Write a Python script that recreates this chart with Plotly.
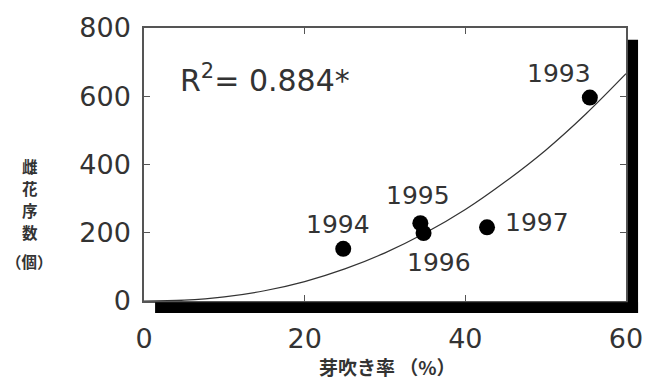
import plotly.graph_objects as go

# observed points
years = ["1993", "1994", "1995", "1996", "1997"]
bud_rate = [55.5, 24.8, 34.4, 34.8, 42.7]          # 芽吹き率 (%)
inflorescences = [596, 153, 228, 199, 216]         # 雌花序数 (個)

# fitted curve
curve_x = [0, 5, 10, 15, 20, 25, 30, 35, 40, 45, 50, 55, 60]
curve_y = [0, 2.5, 12, 30, 57, 94, 141, 199, 268, 350, 442, 548, 666]

x_ticks = [0, 20, 40, 60]
y_ticks = [0, 200, 400, 600, 800]

# vertical y-axis title, one line per glyph group
y_title_parts = ["雌", "花", "序", "数", "（個）"]
y_title_pos = [0.494, 0.414, 0.334, 0.254, 0.145]   # paper y of each line

# label offsets (pixels) per year
label_dx = [-31, -5, -2, 15, 50]
label_dy = [24, 24, 28, -29, 5]

TXT = "#333333"
FRAME = "#555555"

fig = go.Figure()
fig.add_trace(go.Scatter(x=curve_x, y=curve_y, mode="lines",
                         line=dict(color="#333333", width=1.2, shape="spline"),
                         hoverinfo="skip", showlegend=False))
fig.add_trace(go.Scatter(x=bud_rate, y=inflorescences, mode="markers",
                         marker=dict(color="black", size=16),
                         showlegend=False))

for yr, xv, yv, dx, dy in zip(years, bud_rate, inflorescences, label_dx, label_dy):
    fig.add_annotation(x=xv, y=yv, text=yr, showarrow=False, xshift=dx, yshift=dy,
                       font=dict(family="DejaVu Sans", size=25, color=TXT))

fig.add_annotation(xref="paper", yref="paper", x=0.07, y=0.815, xanchor="left",
                   yanchor="middle", text="R<sup>2</sup>= 0.884*", showarrow=False,
                   font=dict(family="DejaVu Sans", size=30, color=TXT))

for part, py in zip(y_title_parts, y_title_pos):
    fig.add_annotation(xref="paper", yref="paper", x=-0.237, y=py, xanchor="center",
                       yanchor="middle", text=part, showarrow=False,
                       font=dict(family="Noto Sans CJK JP", size=15.5, color=TXT, weight="bold"))

fig.add_annotation(xref="paper", yref="paper", x=0.506, y=-0.24, xanchor="center",
                   yanchor="middle", text="芽吹き率 （%）", showarrow=False,
                   font=dict(family="Noto Sans CJK JP", size=19, color=TXT, weight="bold"))

# thick shadow frame (bottom and right)
fig.add_shape(type="rect", xref="paper", yref="paper", x0=0.023, x1=1.025, y0=-0.044, y1=-0.005,
              fillcolor="black", line=dict(width=0), layer="above")
fig.add_shape(type="rect", xref="paper", yref="paper", x0=1.004, x1=1.025, y0=-0.044, y1=0.957,
              fillcolor="black", line=dict(width=0), layer="above")

axis_common = dict(showline=True, linecolor=FRAME, linewidth=1.5, mirror="allticks",
                   ticks="inside", ticklen=6, tickwidth=1.2, tickcolor=FRAME,
                   showgrid=False, zeroline=False,
                   tickfont=dict(family="DejaVu Sans", size=27, color=TXT))

fig.update_xaxes(range=[0, 60], tickvals=x_ticks, ticklabelstandoff=13, **axis_common)
fig.update_yaxes(range=[0, 800], tickvals=y_ticks, ticklabelstandoff=6, **axis_common)

fig.update_layout(width=657, height=383, margin=dict(l=144, r=31, t=20, b=82),
                  paper_bgcolor="white", plot_bgcolor="white", showlegend=False)

fig.write_html("out.html")
